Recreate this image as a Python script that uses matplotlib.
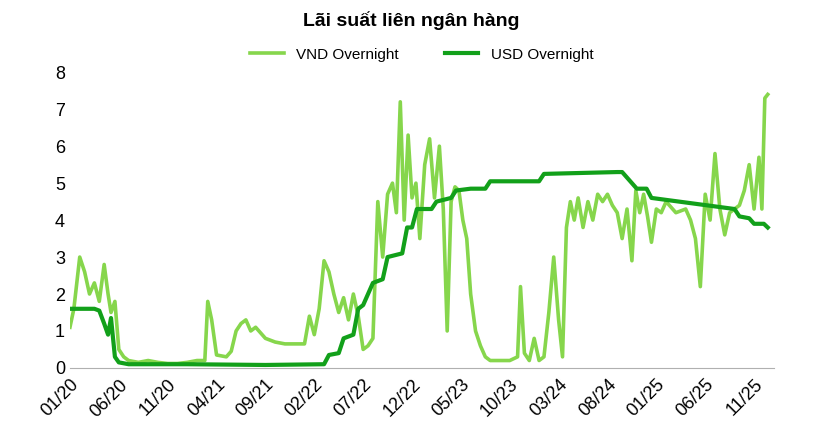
import matplotlib
matplotlib.use('Agg')
import matplotlib.pyplot as plt

# x positions are months since 01/2020
vnd_month = [0, 0.4, 1.0, 1.5, 2.0, 2.5, 3.0, 3.5, 3.9, 4.2, 4.6, 5.0, 5.5, 6.0, 7.0, 8.0, 9.0, 10.0, 11.0, 12.0,
             13.0, 13.8, 14.1, 14.5, 15.0, 16.0, 16.5, 17.0, 17.5, 18.0, 18.5, 19.0, 20.0, 21.0, 22.0, 23.0, 24.0,
             24.5, 25.0, 25.5, 26.0, 26.5, 27.0, 27.5, 28.0, 28.5, 29.0, 29.5, 30.0, 30.5, 31.0, 31.5, 32.0, 32.5,
             33.0, 33.4, 33.8, 34.2, 34.6, 35.0, 35.4, 35.8, 36.3, 36.8, 37.3, 37.8, 38.2, 38.6, 39.0, 39.4, 39.8,
             40.2, 40.6, 41.0, 41.5, 42.0, 42.5, 43.0, 44.0, 45.0, 45.8, 46.1, 46.5, 47.0, 47.5, 48.0, 48.5, 49.0,
             49.5, 50.0, 50.4, 50.8, 51.2, 51.6, 52.0, 52.5, 53.0, 53.5, 54.0, 54.5, 55.0, 55.5, 56.0, 56.5, 57.0,
             57.5, 57.9, 58.3, 58.7, 59.1, 59.5, 60.0, 60.5, 61.0, 62.0, 63.0, 63.5, 64.0, 64.5, 65.0, 65.5, 66.0,
             66.5, 67.0, 67.5, 68.0, 68.5, 69.0, 69.5, 70.0, 70.5, 70.8, 71.1, 71.4]
vnd_rate = [1.1, 1.6, 3.0, 2.6, 2.0, 2.3, 1.8, 2.8, 2.0, 1.5, 1.8, 0.5, 0.3, 0.2, 0.15, 0.2, 0.15, 0.12, 0.12, 0.15,
            0.2, 0.2, 1.8, 1.3, 0.35, 0.3, 0.45, 1.0, 1.2, 1.3, 1.0, 1.1, 0.8, 0.7, 0.65, 0.65, 0.65,
            1.4, 0.9, 1.6, 2.9, 2.6, 2.0, 1.5, 1.9, 1.3, 2.0, 1.4, 0.5, 0.6, 0.8, 4.5, 3.0, 4.7,
            5.0, 4.2, 7.2, 4.0, 6.3, 4.6, 5.0, 3.5, 5.5, 6.2, 4.6, 6.0, 4.3, 1.0, 4.5, 4.9, 4.8,
            4.0, 3.5, 2.0, 1.0, 0.6, 0.3, 0.2, 0.2, 0.2, 0.3, 2.2, 0.4, 0.2, 0.8, 0.2, 0.3, 1.5,
            3.0, 1.3, 0.3, 3.8, 4.5, 4.0, 4.6, 3.8, 4.5, 4.0, 4.7, 4.5, 4.7, 4.4, 4.2, 3.5, 4.3,
            2.9, 4.8, 4.2, 4.7, 4.1, 3.4, 4.3, 4.2, 4.5, 4.2, 4.3, 4.0, 3.5, 2.2, 4.7, 4.0, 5.8,
            4.3, 3.6, 4.2, 4.3, 4.4, 4.8, 5.5, 4.3, 5.7, 4.3, 7.3, 7.4]

usd_month = [0, 2.5, 3.0, 3.5, 3.9, 4.2, 4.6, 5.0, 6.0, 12.0, 20.0, 26.0, 26.5, 27.5, 28.0, 29.0, 29.5, 30.0,
             31.0, 32.0, 32.5, 34.0, 34.5, 35.0, 35.5, 37.0, 37.5, 39.0, 39.5, 41.0, 42.5, 43.0, 48.0, 48.5,
             56.0, 56.5, 58.0, 59.0, 59.5, 68.0, 68.5, 69.5, 70.0, 71.0, 71.4]
usd_rate = [1.6, 1.6, 1.55, 1.2, 0.9, 1.35, 0.3, 0.15, 0.1, 0.1, 0.08, 0.1, 0.35, 0.4, 0.8, 0.9, 1.6, 1.7,
            2.3, 2.4, 3.0, 3.1, 3.8, 3.8, 4.3, 4.3, 4.5, 4.6, 4.8, 4.85, 4.85, 5.05, 5.05, 5.25,
            5.3, 5.3, 4.85, 4.85, 4.6, 4.3, 4.1, 4.05, 3.9, 3.9, 3.8]

tick_labels = ['01/20', '06/20', '11/20', '04/21', '09/21', '02/22', '07/22', '12/22',
               '05/23', '10/23', '03/24', '08/24', '01/25', '06/25', '11/25']

plt.rcParams['font.family'] = ['Liberation Sans', 'DejaVu Sans']
fig, ax = plt.subplots(figsize=(8.23, 4.38), dpi=100)
fig.subplots_adjust(left=0.085, right=0.94, top=0.835, bottom=0.16)

ax.plot(vnd_month, vnd_rate, color='#86d64c', lw=2.6, label='VND Overnight')
ax.plot(usd_month, usd_rate, color='#12a01a', lw=3.0, label='USD Overnight')

ax.set_xlim(0, 72)
ax.set_ylim(0, 8)
ax.set_yticks(range(0, 9))
ax.set_xticks([i * 5 for i in range(len(tick_labels))])
ax.set_xticklabels(tick_labels, rotation=45, ha='right', rotation_mode='anchor')
ax.tick_params(axis='both', labelsize=13, length=0)
ax.tick_params(axis='x', pad=6)
for s in ['top', 'right', 'left']:
    ax.spines[s].set_visible(False)
ax.spines['bottom'].set_color('#b0b0b0')

fig.suptitle('Lãi suất liên ngân hàng', fontsize=14, fontweight='bold', y=0.975)
ax.legend(loc='upper center', bbox_to_anchor=(0.5, 1.13), ncol=2, frameon=False,
          fontsize=11, handlelength=2.2, columnspacing=3)

fig.savefig('out.png')
